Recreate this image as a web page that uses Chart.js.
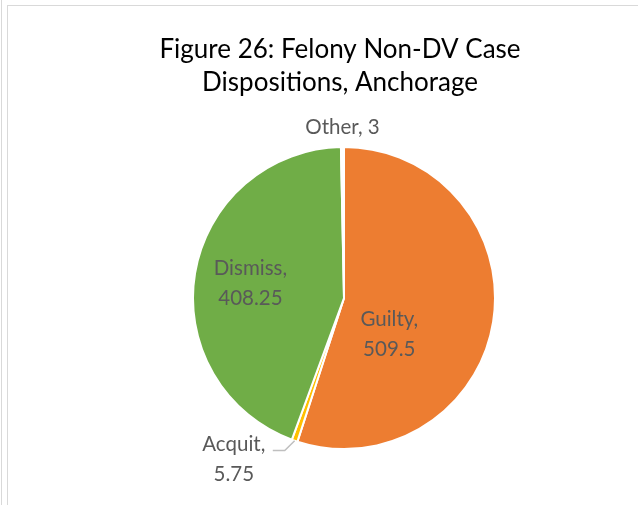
<!DOCTYPE html>
<html>
<head>
<meta charset="utf-8">
<script src="https://cdn.jsdelivr.net/npm/chart.js@4"></script>
<style>
  body { margin: 0; background: #fff; }
  #wrap { position: relative; width: 638px; height: 505px; overflow: hidden; }
  #frameOuter { position: absolute; left: 1px; top: 0; width: 0; height: 505px; border-left: 1px solid #d9d9d9; }
  #frameInner { position: absolute; left: 7px; top: 5px; width: 640px; height: 520px; border-left: 1px solid #d9d9d9; border-top: 1px solid #d9d9d9; }
  canvas { position: absolute; left: 0; top: 0; }
</style>
</head>
<body>
<div id="wrap">
  <div id="frameOuter"></div>
  <div id="frameInner"></div>
  <canvas id="pieChart" width="638" height="505"></canvas>
</div>
<script>
const titleLines = ["Figure 26: Felony Non-DV Case", "Dispositions, Anchorage"];
const categories = ["Guilty", "Acquit", "Dismiss", "Other"];
const values = [509.5, 5.75, 408.25, 3];
const colors = ["#ED7D31", "#FFC000", "#70AD47", "#FFFFFF"];

// label placement, in units of radius from the pie centre
const labelSpots = [
  { dx: 0.30, dy: 0.24, lines: 2 },
  { dx: -0.73, dy: 1.07, lines: 2, leader: true },
  { dx: -0.62, dy: -0.10, lines: 2 },
  { dx: -0.01, dy: -1.13, lines: 1 }
];

const textPlugin = {
  id: "textPlugin",
  afterDraw(chart) {
    const ctx = chart.ctx;
    ctx.save();
    ctx.textAlign = "center";
    ctx.textBaseline = "middle";

    ctx.fillStyle = "#000000";
    ctx.font = "26px Lato";
    ctx.fillText(titleLines[0], 340, 50);
    ctx.fillText(titleLines[1], 340, 83);

    const arcs = chart.getDatasetMeta(0).data;
    ctx.font = "20.5px Lato";
    ctx.fillStyle = "#595959";
    arcs.forEach((arc, i) => {
      const p = arc.getProps(["x", "y", "outerRadius", "startAngle", "endAngle"], true);
      const s = labelSpots[i];
      const cx = p.x + s.dx * p.outerRadius;
      const cy = p.y + s.dy * p.outerRadius;
      if (s.lines === 2) {
        ctx.fillText(categories[i] + ",", cx, cy - 15);
        ctx.fillText(String(values[i]), cx, cy + 15);
      } else {
        ctx.fillText(categories[i] + ", " + values[i], cx, cy);
      }
      if (s.leader) {
        const mid = (p.startAngle + p.endAngle) / 2;
        const ex = p.x + Math.cos(mid) * p.outerRadius;
        const ey = p.y + Math.sin(mid) * p.outerRadius;
        ctx.strokeStyle = "#bfbfbf";
        ctx.lineWidth = 1.5;
        ctx.beginPath();
        ctx.moveTo(cx + 39, cy - 9);
        ctx.lineTo(cx + 51, cy - 9);
        ctx.lineTo(ex, ey);
        ctx.stroke();
      }
    });
    ctx.restore();
  }
};

new Chart(document.getElementById("pieChart"), {
  type: "pie",
  data: {
    labels: categories,
    datasets: [{
      data: values,
      backgroundColor: colors,
      borderColor: "#ffffff",
      borderWidth: 2
    }]
  },
  options: {
    responsive: false,
    animation: false,
    layout: { padding: { left: 192, right: 142, top: 146, bottom: 55 } },
    plugins: {
      legend: { display: false },
      tooltip: { enabled: false }
    }
  },
  plugins: [textPlugin]
});
</script>
</body>
</html>
